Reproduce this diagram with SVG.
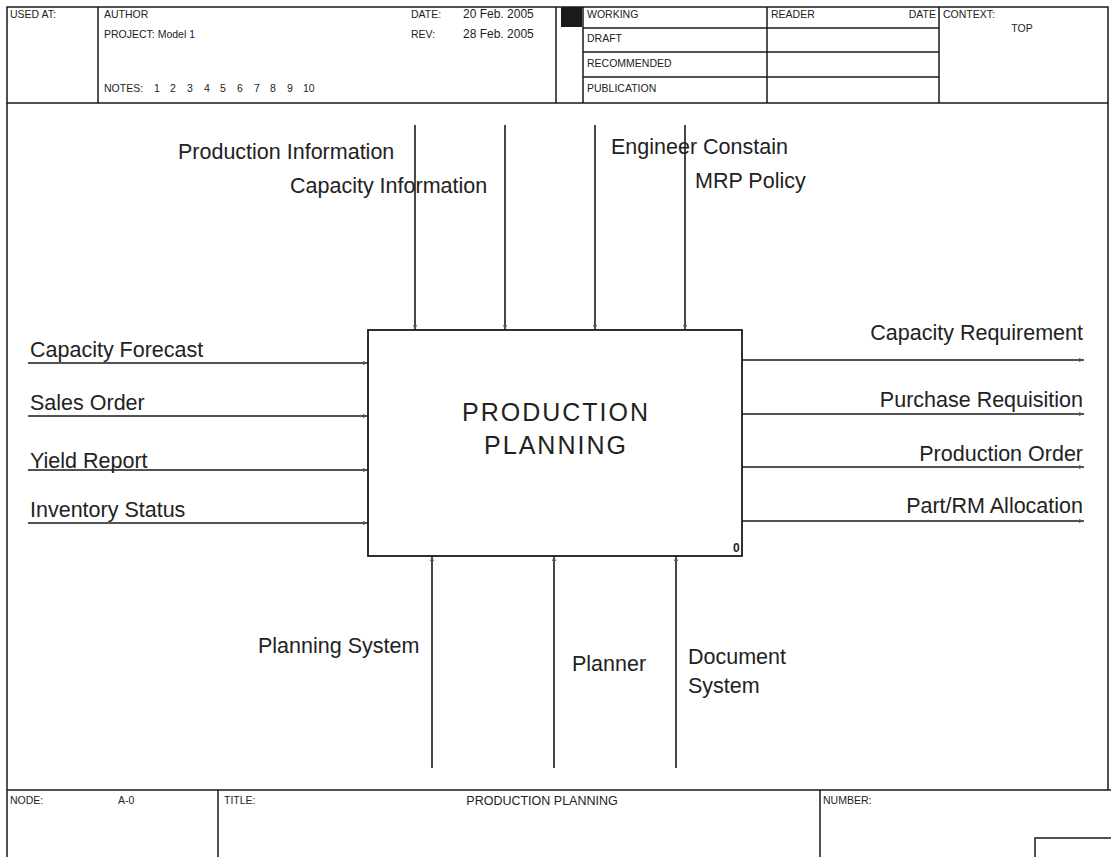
<svg xmlns="http://www.w3.org/2000/svg" width="1111" height="857" viewBox="0 0 1111 857">
<style>
.frame{fill:none;stroke:#1a1a1a;stroke-width:1.5}
.conn{fill:none;stroke:#1a1a1a;stroke-width:1.6}
.hd{font-family:"Liberation Sans",Arial,sans-serif;font-size:10.5px;fill:#222}
.lbl{font-family:"Liberation Sans",Arial,sans-serif;font-size:21.5px;fill:#222}
.ttl{font-family:"Liberation Sans",Arial,sans-serif;font-size:25px;fill:#222;letter-spacing:2px}
</style>
<defs>
<marker id="ah" viewBox="0 0 10 10" refX="10" refY="5" markerWidth="5" markerHeight="5" orient="auto" markerUnits="userSpaceOnUse">
<path d="M0,1 L10,5 L0,9 z" fill="#555"/>
</marker>
</defs>
<rect width="1111" height="857" fill="#fff"/>
<g id="header">
<path class="frame" d="M7,7 H1108 V103 H7 Z M98,7 V103 M556,7 V103 M583,7 V103 M767,7 V103 M939,7 V103 M583,28 H939 M583,52 H939 M583,77 H939"/>
<rect x="561" y="7" width="21" height="20" fill="#1a1a1a"/>
<text class="hd" x="10" y="18">USED AT:</text>
<text class="hd" x="104" y="18">AUTHOR</text>
<text class="hd" x="104" y="38">PROJECT:  Model 1</text>
<text class="hd" x="104" y="92">NOTES:</text>
<text class="hd" y="92"><tspan x="154">1</tspan><tspan x="170">2</tspan><tspan x="187">3</tspan><tspan x="204">4</tspan><tspan x="220">5</tspan><tspan x="237">6</tspan><tspan x="254">7</tspan><tspan x="270">8</tspan><tspan x="287">9</tspan><tspan x="303">10</tspan></text>
<text class="hd" x="411" y="18">DATE:</text>
<text class="hd" x="463" y="18" style="font-size:12px">20 Feb. 2005</text>
<text class="hd" x="411" y="38">REV:</text>
<text class="hd" x="463" y="38" style="font-size:12px">28 Feb. 2005</text>
<text class="hd" x="587" y="18">WORKING</text>
<text class="hd" x="587" y="42">DRAFT</text>
<text class="hd" x="587" y="67">RECOMMENDED</text>
<text class="hd" x="587" y="92">PUBLICATION</text>
<text class="hd" x="771" y="18">READER</text>
<text class="hd" x="936" y="18" text-anchor="end">DATE</text>
<text class="hd" x="943" y="18">CONTEXT:</text>
<text class="hd" x="1022" y="32" text-anchor="middle">TOP</text>
</g>
<g id="border">
<path class="frame" d="M7,103 V857 M1108,103 V790"/>
</g>
<g id="footer">
<path class="frame" d="M7,790 H1111 M218,790 V857 M820,790 V857 M1035,857 V838 H1111"/>
<text class="hd" x="10" y="804">NODE:</text>
<text class="hd" x="118" y="804">A-0</text>
<text class="hd" x="224" y="804">TITLE:</text>
<text class="hd" x="542" y="805" text-anchor="middle" style="font-size:12.5px">PRODUCTION PLANNING</text>
<text class="hd" x="823" y="804">NUMBER:</text>
</g>
<g id="connectors">
<path class="conn" marker-end="url(#ah)" d="M415,125 V330"/>
<path class="conn" marker-end="url(#ah)" d="M505,125 V330"/>
<path class="conn" marker-end="url(#ah)" d="M595,125 V330"/>
<path class="conn" marker-end="url(#ah)" d="M685,125 V330"/>
<path class="conn" marker-end="url(#ah)" d="M28,363 H368"/>
<path class="conn" marker-end="url(#ah)" d="M28,416 H368"/>
<path class="conn" marker-end="url(#ah)" d="M28,470 H368"/>
<path class="conn" marker-end="url(#ah)" d="M28,523 H368"/>
<path class="conn" marker-end="url(#ah)" d="M742,360 H1084"/>
<path class="conn" marker-end="url(#ah)" d="M742,414 H1084"/>
<path class="conn" marker-end="url(#ah)" d="M742,467 H1084"/>
<path class="conn" marker-end="url(#ah)" d="M742,521 H1084"/>
<path class="conn" marker-end="url(#ah)" d="M432,768 V556"/>
<path class="conn" marker-end="url(#ah)" d="M554,768 V556"/>
<path class="conn" marker-end="url(#ah)" d="M676,768 V556"/>
<text class="lbl" x="178" y="159">Production Information</text>
<text class="lbl" x="290" y="193">Capacity Information</text>
<text class="lbl" x="611" y="154">Engineer Constain</text>
<text class="lbl" x="695" y="188">MRP Policy</text>
<text class="lbl" x="30" y="357">Capacity Forecast</text>
<text class="lbl" x="30" y="410">Sales Order</text>
<text class="lbl" x="30" y="468">Yield Report</text>
<text class="lbl" x="30" y="517">Inventory Status</text>
<text class="lbl" x="1083" y="340" text-anchor="end">Capacity Requirement</text>
<text class="lbl" x="1083" y="407" text-anchor="end">Purchase Requisition</text>
<text class="lbl" x="1083" y="461" text-anchor="end">Production Order</text>
<text class="lbl" x="1083" y="513" text-anchor="end">Part/RM Allocation</text>
<text class="lbl" x="258" y="653">Planning System</text>
<text class="lbl" x="572" y="671">Planner</text>
<text class="lbl" x="688" y="664">Document</text>
<text class="lbl" x="688" y="693">System</text>
</g>
<g id="node-A0">
<rect x="368" y="330" width="374" height="226" fill="#fff" stroke="#1a1a1a" stroke-width="1.8"/>
<text class="ttl" x="556" y="421" text-anchor="middle">PRODUCTION</text>
<text class="ttl" x="556" y="454" text-anchor="middle">PLANNING</text>
<text class="hd" x="733" y="552" font-weight="bold" style="font-size:12px">0</text>
</g>
</svg>
